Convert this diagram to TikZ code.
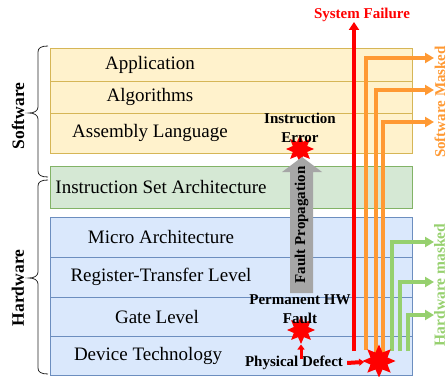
\documentclass[tikz,border=0pt]{standalone}
\usepackage{fontspec}
\setmainfont{Liberation Serif}
\usetikzlibrary{arrows.meta,shapes.geometric}

\definecolor{swfill}{HTML}{FFF2CC}
\definecolor{swline}{HTML}{D6B656}
\definecolor{isafill}{HTML}{D5E8D4}
\definecolor{isaline}{HTML}{82B366}
\definecolor{hwfill}{HTML}{DAE8FC}
\definecolor{hwline}{HTML}{6C8EBF}
\definecolor{maskor}{RGB}{255,153,51}
\definecolor{maskgr}{RGB}{150,208,110}
\definecolor{propgray}{RGB}{166,166,166}

% curly brace on the left of a layer group: top y, bottom y, tip y
\newcommand\sidebrace[3]{%
  \draw[bracepen] (48,#1) .. controls (41,#1) and (38,#1+2) .. (38,#1+6)
    -- (38,#3-6) .. controls (38,#3-2) and (34,#3) .. (29,#3)
    .. controls (34,#3) and (38,#3+2) .. (38,#3+6)
    -- (38,#2-6) .. controls (38,#2-2) and (41,#2) .. (48,#2);}

\begin{document}
\begin{tikzpicture}[x=1pt,y=-1pt,
  swrow/.style={draw=swline, fill=swfill, line width=0.8pt, minimum width=362pt, inner sep=0pt},
  isarow/.style={draw=isaline, fill=isafill, line width=0.8pt, minimum width=362pt, inner sep=0pt},
  hwrow/.style={draw=hwline, fill=hwfill, line width=0.8pt, minimum width=362pt, inner sep=0pt},
  rowtext/.style={font=\fontsize{19}{22}\selectfont, inner sep=0pt},
  lbl/.style={font=\fontsize{15}{19}\selectfont\bfseries, inner sep=0pt, align=center},
  sidelbl/.style={font=\fontsize{17.5}{20}\selectfont\bfseries, inner sep=0pt, rotate=90},
  bracepen/.style={line width=0.8pt, black!85},
  burst/.style={star, star points=8, star point ratio=1.8, fill=red, draw=none, inner sep=0pt},
  failline/.style={red, line width=4pt, -{Triangle[length=8pt,width=10pt]}},
  swline/.style={maskor, line width=3.5pt, -{Triangle[length=9pt,width=10pt]}},
  hwmline/.style={maskgr, line width=3.5pt, -{Triangle[length=9pt,width=10pt]}},
  defectarrow/.style={red, line width=3pt, -{Triangle[length=5pt,width=7pt]}}
]
\useasboundingbox (0,0) rectangle (447,377);

% software layers
\node[swrow, minimum height=33pt] (app) at (231,64.5) {};
\node[swrow, minimum height=32pt] (alg) at (231,97) {};
\node[swrow, minimum height=40pt] (asm) at (231,133) {};
% ISA
\node[isarow, minimum height=42pt] (isa) at (231,187) {};
% hardware layers
\node[hwrow, minimum height=40pt] (micro) at (231,237) {};
\node[hwrow, minimum height=40pt] (rtl) at (231,277) {};
\node[hwrow, minimum height=39pt] (gate) at (231,316.5) {};
\node[hwrow, minimum height=39pt] (dev) at (231,355.5) {};

% layer names
\node[rowtext] (tapp) at (150,64.5) {Application};
\node[rowtext] (talg) at (150,97) {Algorithms};
\node[rowtext] (tasm) at (150,133) {Assembly Language};
\node[rowtext] (tisa) at (161,187) {Instruction Set Architecture};
\node[rowtext] (tmicro) at (161,237) {Micro Architecture};
\node[rowtext] (trtl) at (161,277) {Register-Transfer Level};
\node[rowtext] (tgate) at (157,316.5) {Gate Level};
\node[rowtext] (tdev) at (148,355.5) {Device Technology};

% group braces and names
\sidebrace{46}{177}{113}
\sidebrace{180}{374}{278}
\node[sidelbl] (swlbl) at (18,116) {Software};
\node[sidelbl] (hwlbl) at (18,288) {Hardware};

% fault propagation arrow
\node[burst, minimum size=28pt] (ierr) at (300,149) {};
\fill[propgray] (290,293) -- (290,172) -- (282,172) -- (302,157) -- (322,172)
  -- (313,172) -- (313,293) -- cycle;
\node[lbl, rotate=90] (prop) at (301.5,225) {Fault Propagation};
\node[lbl] (ierrlbl) at (300,127.5) {Instruction\\Error};

% permanent fault and physical defect
\node[burst, minimum size=28pt] (pfault) at (301,330) {};
\node[lbl] (pfaultlbl) at (300,309) {Permanent HW\\Fault};
\node[lbl] (pd) at (294,363) {Physical Defect};
\coordinate (pdtop) at (301,359);
\draw[defectarrow] (pdtop) -- (pfault);

% outcome paths
\coordinate (fail0) at (354,351);
\coordinate (fail1) at (354,22);
\node[lbl, text=red] (sysfail) at (362,15) {System Failure};
\draw[failline] (fail0) -- (fail1);

\coordinate (so1) at (366,350);
\coordinate (so2) at (376,356);
\coordinate (so3) at (383,356);
\coordinate (se1) at (434,58);
\coordinate (se2) at (434,90);
\coordinate (se3) at (434,122);
\draw[swline] (so1) |- (se1);
\draw[swline] (so2) |- (se2);
\draw[swline] (so3) |- (se3);
\node[lbl, rotate=90, text=maskor] (swmask) at (440,102) {Software Masked};

\coordinate (ho1) at (392,351);
\coordinate (ho2) at (400,351);
\coordinate (ho3) at (408,351);
\coordinate (he1) at (434,242);
\coordinate (he2) at (434,282);
\coordinate (he3) at (434,315);
\draw[hwmline] (ho1) |- (he1);
\draw[hwmline] (ho2) |- (he2);
\draw[hwmline] (ho3) |- (he3);
\node[lbl, rotate=90, text=maskgr, font=\fontsize{15.5}{19}\selectfont\bfseries] (hwmask) at (439.5,285) {Hardware masked};

% defect site
\node[burst, minimum size=33pt] (site) at (379,361) {};
\draw[defectarrow, line width=4pt] ([xshift=4pt]pd.east) -- (site);
\end{tikzpicture}
\end{document}
